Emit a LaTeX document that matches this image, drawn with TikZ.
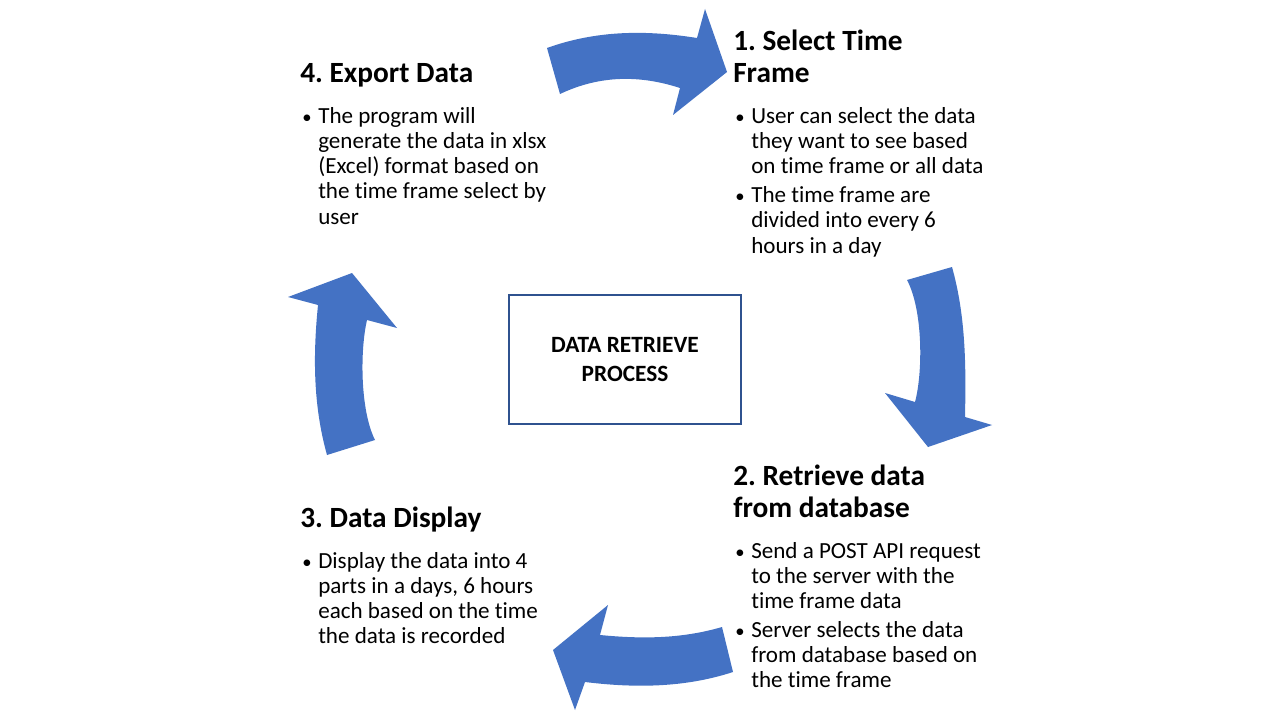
\documentclass[tikz,border=0pt]{standalone}
\usepackage{fontspec}
\setmainfont{Carlito}[Ligatures=NoCommon]
\definecolor{arrowblue}{HTML}{4472C4}
\definecolor{boxblue}{HTML}{2F528F}
\frenchspacing
\begin{document}
\begin{tikzpicture}[x=0.75pt,y=-0.75pt,
  ttl/.style={anchor=base west, inner sep=0, font=\bfseries\fontsize{22}{26}\selectfont},
  bodyline/.style={anchor=base west, inner sep=0, font=\fontsize{17.3}{20}\selectfont},
  bul/.style={anchor=base, inner sep=0, font=\fontsize{14}{16}\selectfont},
  arrowshape/.style={fill=arrowblue, draw=none},
  centerbox/.style={draw=boxblue, line width=1.5pt, minimum width=174pt, minimum height=96.75pt, align=center, inner sep=0, font=\bfseries\fontsize{17.5}{21.4}\selectfont}]
\useasboundingbox (0,0) rectangle (1280,720);
\fill[white] (0,0) rectangle (1280,720);

% ---- arrows ----
% top arrow (4 -> 1)
\fill[arrowshape] (547,48) .. controls (597,30) and (647,30) .. (697,38)
  -- (705,9) -- (727,72) -- (673,115) -- (680,88)
  .. controls (640,75) and (600,75) .. (560,94) -- cycle;
% right arrow (1 -> 2)
\fill[arrowshape] (907,280) -- (952,267)
  .. controls (966,317) and (966,367) .. (965,417)
  -- (992,425) -- (928,447) -- (885,393) -- (915,402)
  .. controls (923,372) and (923,310) .. (907,280) -- cycle;
% bottom arrow (2 -> 3)
\fill[arrowshape] (722,627) .. controls (681,639) and (641,639) .. (600,635)
  -- (608,605) -- (553,650) -- (575,710) -- (585,682)
  .. controls (634,688) and (684,688) .. (733,672) -- cycle;
% left arrow (3 -> 4)
\fill[arrowshape] (327,455) .. controls (313,405) and (313,355) .. (318,305)
  -- (288,297) -- (352,273) -- (397,328) -- (367,320)
  .. controls (360,350) and (360,410) .. (375,440) -- cycle;

% ---- centre box ----
\node[centerbox] (box) at (625,359.5) {DATA RETRIEVE\\PROCESS};

% ---- block 1 ----
\node[ttl] (t1a) at (733,51) {1. Select Time};
\node[ttl] (t1b) at (733,83) {Frame};
\node[bul] (u1a) at (740,124) {•};
\node[bodyline] (l1a) at (751,124) {User can select the data};
\node[bodyline] (l1b) at (751,149) {they want to see based};
\node[bodyline] (l1c) at (751,174) {on time frame or all data};
\node[bul] (u1b) at (740,203) {•};
\node[bodyline] (l1d) at (751,203) {The time frame are};
\node[bodyline] (l1e) at (751,228) {divided into every 6};
\node[bodyline] (l1f) at (751,253) {hours in a day};

% ---- block 2 ----
\node[ttl] (t2a) at (733,485) {2. Retrieve data};
\node[ttl] (t2b) at (733,517) {from database};
\node[bul] (u2a) at (740,558) {•};
\node[bodyline] (l2a) at (751,558) {Send a POST API request};
\node[bodyline] (l2b) at (751,583) {to the server with the};
\node[bodyline] (l2c) at (751,608) {time frame data};
\node[bul] (u2b) at (740,637) {•};
\node[bodyline] (l2d) at (751,637) {Server selects the data};
\node[bodyline] (l2e) at (751,662) {from database based on};
\node[bodyline] (l2f) at (751,687) {the time frame};

% ---- block 3 ----
\node[ttl] (t3a) at (300,527) {3. Data Display};
\node[bul] (u3a) at (307,568) {•};
\node[bodyline] (l3a) at (318,568) {Display the data into 4};
\node[bodyline] (l3b) at (318,593) {parts in a days, 6 hours};
\node[bodyline] (l3c) at (318,618) {each based on the time};
\node[bodyline] (l3d) at (318,643) {the data is recorded};

% ---- block 4 ----
\node[ttl] (t4a) at (300,83) {4. Export Data};
\node[bul] (u4a) at (307,124) {•};
\node[bodyline] (l4a) at (318,124) {The program will};
\node[bodyline] (l4b) at (318,149) {generate the data in xlsx};
\node[bodyline] (l4c) at (318,174) {(Excel) format based on};
\node[bodyline] (l4d) at (318,199) {the time frame select by};
\node[bodyline] (l4e) at (318,224) {user};
\end{tikzpicture}
\end{document}
